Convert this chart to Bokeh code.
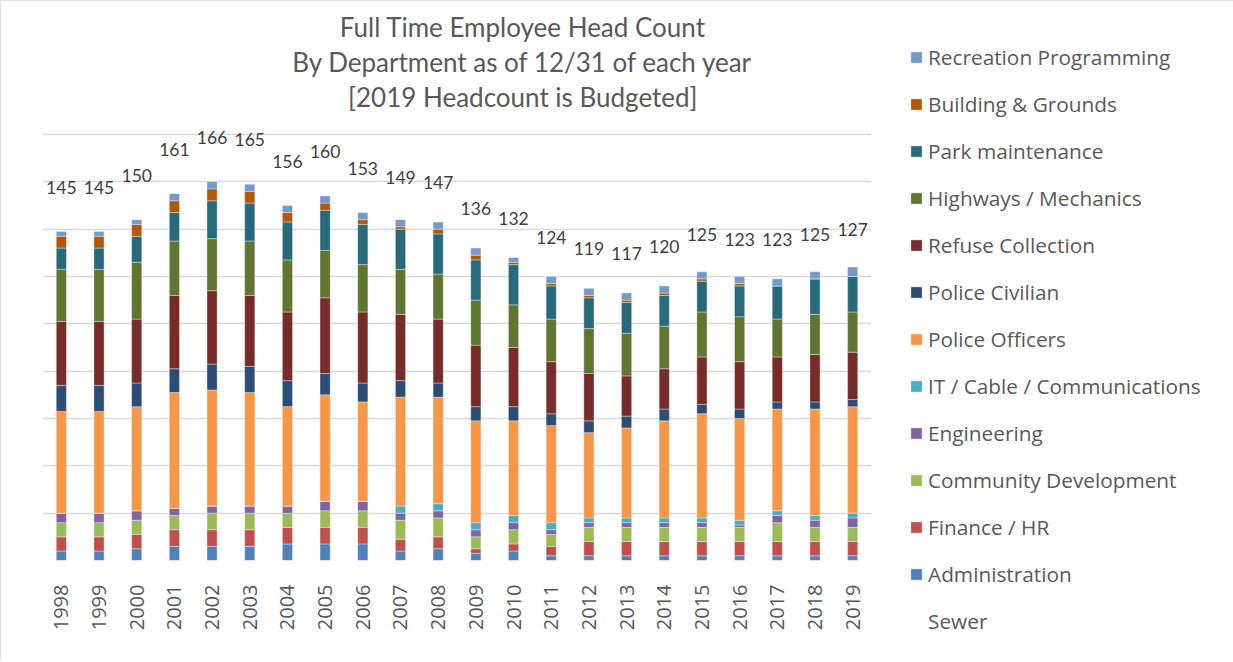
import math
from bokeh.plotting import figure
from bokeh.models import (FactorRange, Range1d, FixedTicker, Legend, LegendItem,
                          Label, ColumnDataSource)
from bokeh.embed import file_html
from bokeh.resources import INLINE
from bokeh.core.properties import value

# ---------------- data ----------------
years = [str(y) for y in range(1998, 2020)]
totals = [145, 145, 150, 161, 166, 165, 156, 160, 153, 149, 147,
          136, 132, 124, 119, 117, 120, 125, 123, 123, 125, 127]

administration = [4, 4, 5, 6, 6, 6, 7, 7, 7, 4, 5, 3, 4, 2, 2, 2, 2, 2, 2, 2, 2, 2]
finance_hr = [6, 6, 6, 7, 7, 7, 7, 7, 7, 5, 5, 2, 3, 4, 6, 6, 6, 6, 6, 6, 6, 6]
community_dev = [6, 6, 6, 6, 7, 7, 6, 7, 7, 8, 8, 5, 6, 5, 6, 6, 6, 6, 6, 8, 6, 6]
engineering = [4, 4, 4, 3, 3, 3, 3, 4, 4, 3, 3, 3, 3, 2, 2, 2, 2, 2, 1, 3, 3, 4]
it_cable = [0, 0, 0, 0, 0, 0, 0, 0, 0, 3, 3, 3, 3, 3, 2, 2, 2, 2, 2, 2, 2, 2]
police_officers = [43, 43, 44, 49, 49, 48, 42, 45, 42, 46, 45, 43, 40, 41, 36, 38, 41, 44, 43, 43, 45, 45]
police_civilian = [11, 11, 10, 10, 11, 11, 11, 9, 8, 7, 6, 6, 6, 5, 5, 5, 5, 4, 4, 3, 3, 3]
refuse = [27, 27, 27, 31, 31, 30, 29, 32, 30, 28, 27, 26, 25, 22, 20, 17, 17, 20, 20, 19, 20, 20]
highways = [22, 22, 24, 23, 22, 23, 22, 20, 20, 19, 19, 19, 18, 18, 19, 18, 18, 19, 19, 16, 17, 17]
park = [9, 9, 11, 12, 16, 16, 16, 17, 17, 17, 17, 17, 17, 14, 13, 13, 13, 13, 13, 14, 15, 15]
building = [5, 5, 5, 5, 5, 5, 4, 3, 2, 1, 2, 2, 1, 1, 1, 1, 1, 1, 1, 0, 0, 0]
recreation = [2, 2, 2, 3, 3, 3, 3, 3, 3, 3, 3, 3, 2, 3, 3, 3, 3, 3, 3, 3, 3, 4]
sewer = [6, 6, 6, 6, 6, 6, 6, 6, 6, 5, 4, 4, 4, 4, 4, 4, 4, 3, 3, 4, 3, 3]

series_names = ["Administration", "Finance / HR", "Community Development", "Engineering",
                "IT / Cable / Communications", "Police Officers", "Police Civilian",
                "Refuse Collection", "Highways / Mechanics", "Park maintenance",
                "Building & Grounds", "Recreation Programming", "Sewer"]
series_keys = ["administration", "finance_hr", "community_dev", "engineering", "it_cable",
               "police_officers", "police_civilian", "refuse", "highways", "park",
               "building", "recreation", "sewer"]
series_colors = ["#4F81BD", "#C0504D", "#9BBB59", "#8064A2", "#4BACC6", "#F79646",
                 "#2C4D75", "#772C2A", "#5F7530", "#276A7C", "#B65708", "#729ACA", "#FFFFFF"]

title_lines = ["Full Time Employee Head Count",
               "By Department as of 12/31 of each year",
               "[2019 Headcount is Budgeted]"]

source = ColumnDataSource(dict(
    year=years, total=totals, total_str=[str(t) for t in totals],
    administration=administration, finance_hr=finance_hr, community_dev=community_dev,
    engineering=engineering, it_cable=it_cable, police_officers=police_officers,
    police_civilian=police_civilian, refuse=refuse, highways=highways, park=park,
    building=building, recreation=recreation, sewer=sewer))

# ---------------- figure ----------------
p = figure(x_range=FactorRange(*years), y_range=Range1d(0, 232.8),
           frame_width=829, frame_height=551,
           min_border_left=42, min_border_right=359, min_border_top=9, min_border_bottom=100,
           output_backend="svg", toolbar_location=None, outline_line_color=None,
           background_fill_color="white", border_fill_color="white")
p.styles = {"outline": "1px solid #d9d9d9", "outline-offset": "-1px"}

renderers = p.vbar_stack(series_keys, x="year", width=0.27, source=source,
                         color=series_colors, line_color="white", line_width=0.6,
                         line_alpha=0.6)
# Sewer is stacked but not filled
renderers[-1].glyph.fill_alpha = 0
renderers[-1].glyph.line_alpha = 0

p.text(x="year", y="total", text="total_str", source=source, y_offset=-30,
       text_align="center", text_baseline="middle", text_font=value("Lato"),
       text_font_size="17.5px", text_color="#404040")

p.yaxis.visible = False
p.ygrid.ticker = FixedTicker(ticks=list(range(0, 181, 20)))
p.ygrid.grid_line_color = "#d9d9d9"
p.ygrid.grid_line_width = 1.4
p.xgrid.grid_line_color = None

p.xaxis.major_label_orientation = math.pi / 2
p.xaxis.major_tick_line_color = None
p.xaxis.minor_tick_line_color = None
p.xaxis.axis_line_color = None
p.xaxis.major_label_standoff = 18
p.xaxis.major_label_text_font = "Open Sans"
p.xaxis.major_label_text_font_size = "20px"
p.xaxis.major_label_text_color = "#595959"

# title lines
title_y = [533.3, 498.8, 463.3]
for line, ty in zip(title_lines, title_y):
    p.add_layout(Label(x=480.3, y=ty, x_units="screen", y_units="screen", text=line,
                       text_align="center", text_baseline="middle", text_font="Lato",
                       text_font_size="26px", text_color="#595959"))

# legend: Recreation Programming at top ... Administration, then Sewer at the bottom
all_items = [LegendItem(label=n, renderers=[r]) for n, r in zip(series_names, renderers)]
items = all_items[:-1][::-1] + [all_items[-1]]
legend = Legend(items=items, location=(38, -75), orientation="vertical",
                glyph_width=14, glyph_height=14, label_standoff=5, spacing=19,
                padding=0, margin=0, label_height=28,
                label_text_font="Open Sans", label_text_font_size="20.8px",
                label_text_color="#595959", border_line_color=None,
                background_fill_alpha=0)
p.add_layout(legend, "right")

open("out.html", "w").write(file_html(p, INLINE))
